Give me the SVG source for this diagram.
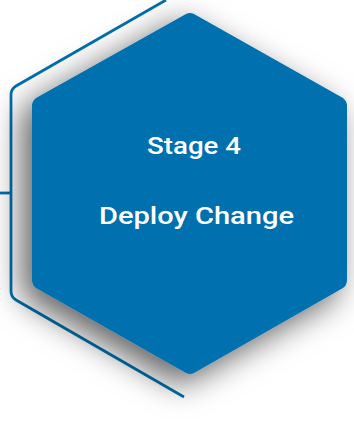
<svg xmlns="http://www.w3.org/2000/svg" width="354" height="424" viewBox="0 0 354 424">
  <defs>
    <filter id="shadow" x="-40%" y="-40%" width="180%" height="180%">
      <feDropShadow dx="-10" dy="10" stdDeviation="16" flood-color="#000" flood-opacity="0.62"/>
    </filter>
    <style>
      .frame { fill: none; stroke: #0070AE; stroke-width: 2.8; stroke-linejoin: round; }
      .hex { fill: #0070AE; }
      .label { fill: #FFFFFF; font-family: Roboto, "Open Sans", "Liberation Sans", sans-serif; font-size: 23px; font-weight: 500; text-anchor: middle; }
    </style>
  </defs>
  <rect width="354" height="424" fill="#FFFFFF"/>
  <g id="connectors">
    <path class="frame" d="M166,0 L16,86 Q11,89 11,95 L11,291 Q11,297 16,300 L184,397"/>
    <line class="frame" x1="0" y1="193" x2="11" y2="193"/>
  </g>
  <g id="stage4">
    <path class="hex" filter="url(#shadow)" d="M186,14 Q190,12 194,14 L343,98 Q347,101 347,106 L347,280 Q347,285 343,288 L194,373 Q190,375 186,373 L36,288 Q32,285 32,280 L32,106 Q32,101 36,98 Z"/>
    <text class="label" x="194" y="154" textLength="94" lengthAdjust="spacingAndGlyphs">Stage 4</text>
    <text class="label" x="196.5" y="224" textLength="195" lengthAdjust="spacingAndGlyphs">Deploy Change</text>
  </g>
</svg>
